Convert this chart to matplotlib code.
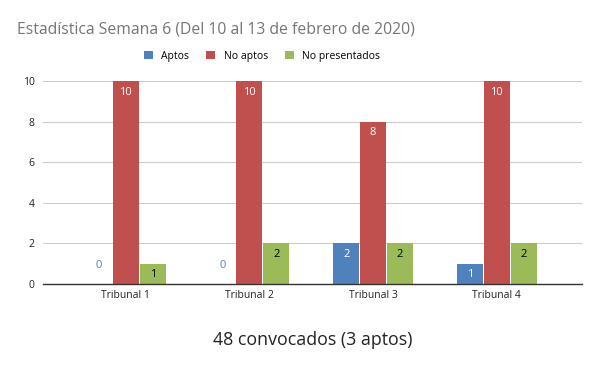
import matplotlib
matplotlib.use("Agg")
import matplotlib.pyplot as plt
import numpy as np

plt.rcParams['font.family'] = ['Open Sans', 'DejaVu Sans']

tribunales = ["Tribunal 1", "Tribunal 2", "Tribunal 3", "Tribunal 4"]
aptos = [0, 0, 2, 1]
no_aptos = [10, 10, 8, 10]
no_presentados = [1, 2, 2, 2]

series = [("Aptos", aptos, "#4F81BD", "white"),
          ("No aptos", no_aptos, "#C0504D", "white"),
          ("No presentados", no_presentados, "#9BBB59", "black")]

fig = plt.figure(figsize=(6, 3.71), dpi=100)
ax = fig.add_axes([43/600, 87/371, 539/600, 203/371])

x = np.arange(len(tribunales))
w = 0.21
paso = 0.218

for i, (nombre, vals, col, txtcol) in enumerate(series):
    pos = x + (i - 1) * paso
    ax.bar(pos, vals, width=w, color=col, label=nombre, zorder=3)
    for p, v in zip(pos, vals):
        if v == 0:
            ax.text(p, 0.9, str(v), ha="center", va="center", fontsize=8, color=col, zorder=4)
        else:
            ax.text(p, v - 0.55, str(v), ha="center", va="center", fontsize=8, color=txtcol, zorder=4)

ax.set_xlim(-0.67, 3.69)
ax.set_ylim(0, 10)
ax.set_yticks(range(0, 11, 2))
ax.set_xticks(x)
ax.set_xticklabels(tribunales)
ax.tick_params(axis="both", length=0, labelsize=7.5, colors="#222222")
ax.tick_params(axis="y", pad=6)
ax.tick_params(axis="x", pad=4)
ax.grid(axis="y", color="#cccccc", linewidth=0.8, zorder=0)
for s in ["top", "right", "left"]:
    ax.spines[s].set_visible(False)
ax.spines["bottom"].set_color("#333333")
ax.spines["bottom"].set_linewidth(1)
ax.spines["bottom"].set_zorder(5)

ax.set_xlabel("48 convocados (3 aptos)", fontsize=12.8, color="#222222", labelpad=22)

fig.text(17/600, 1 - 29/371, "Estadística Semana 6 (Del 10 al 13 de febrero de 2020)",
         fontsize=11.3, color="#757575", ha="left", va="center")

fig.legend(loc="center", bbox_to_anchor=(262/600, 1 - 56/371), ncol=3, frameon=False,
           fontsize=7.5, handlelength=0.9, handleheight=0.9, columnspacing=1.6, handletextpad=0.8)

fig.savefig("out.png", dpi=100)
